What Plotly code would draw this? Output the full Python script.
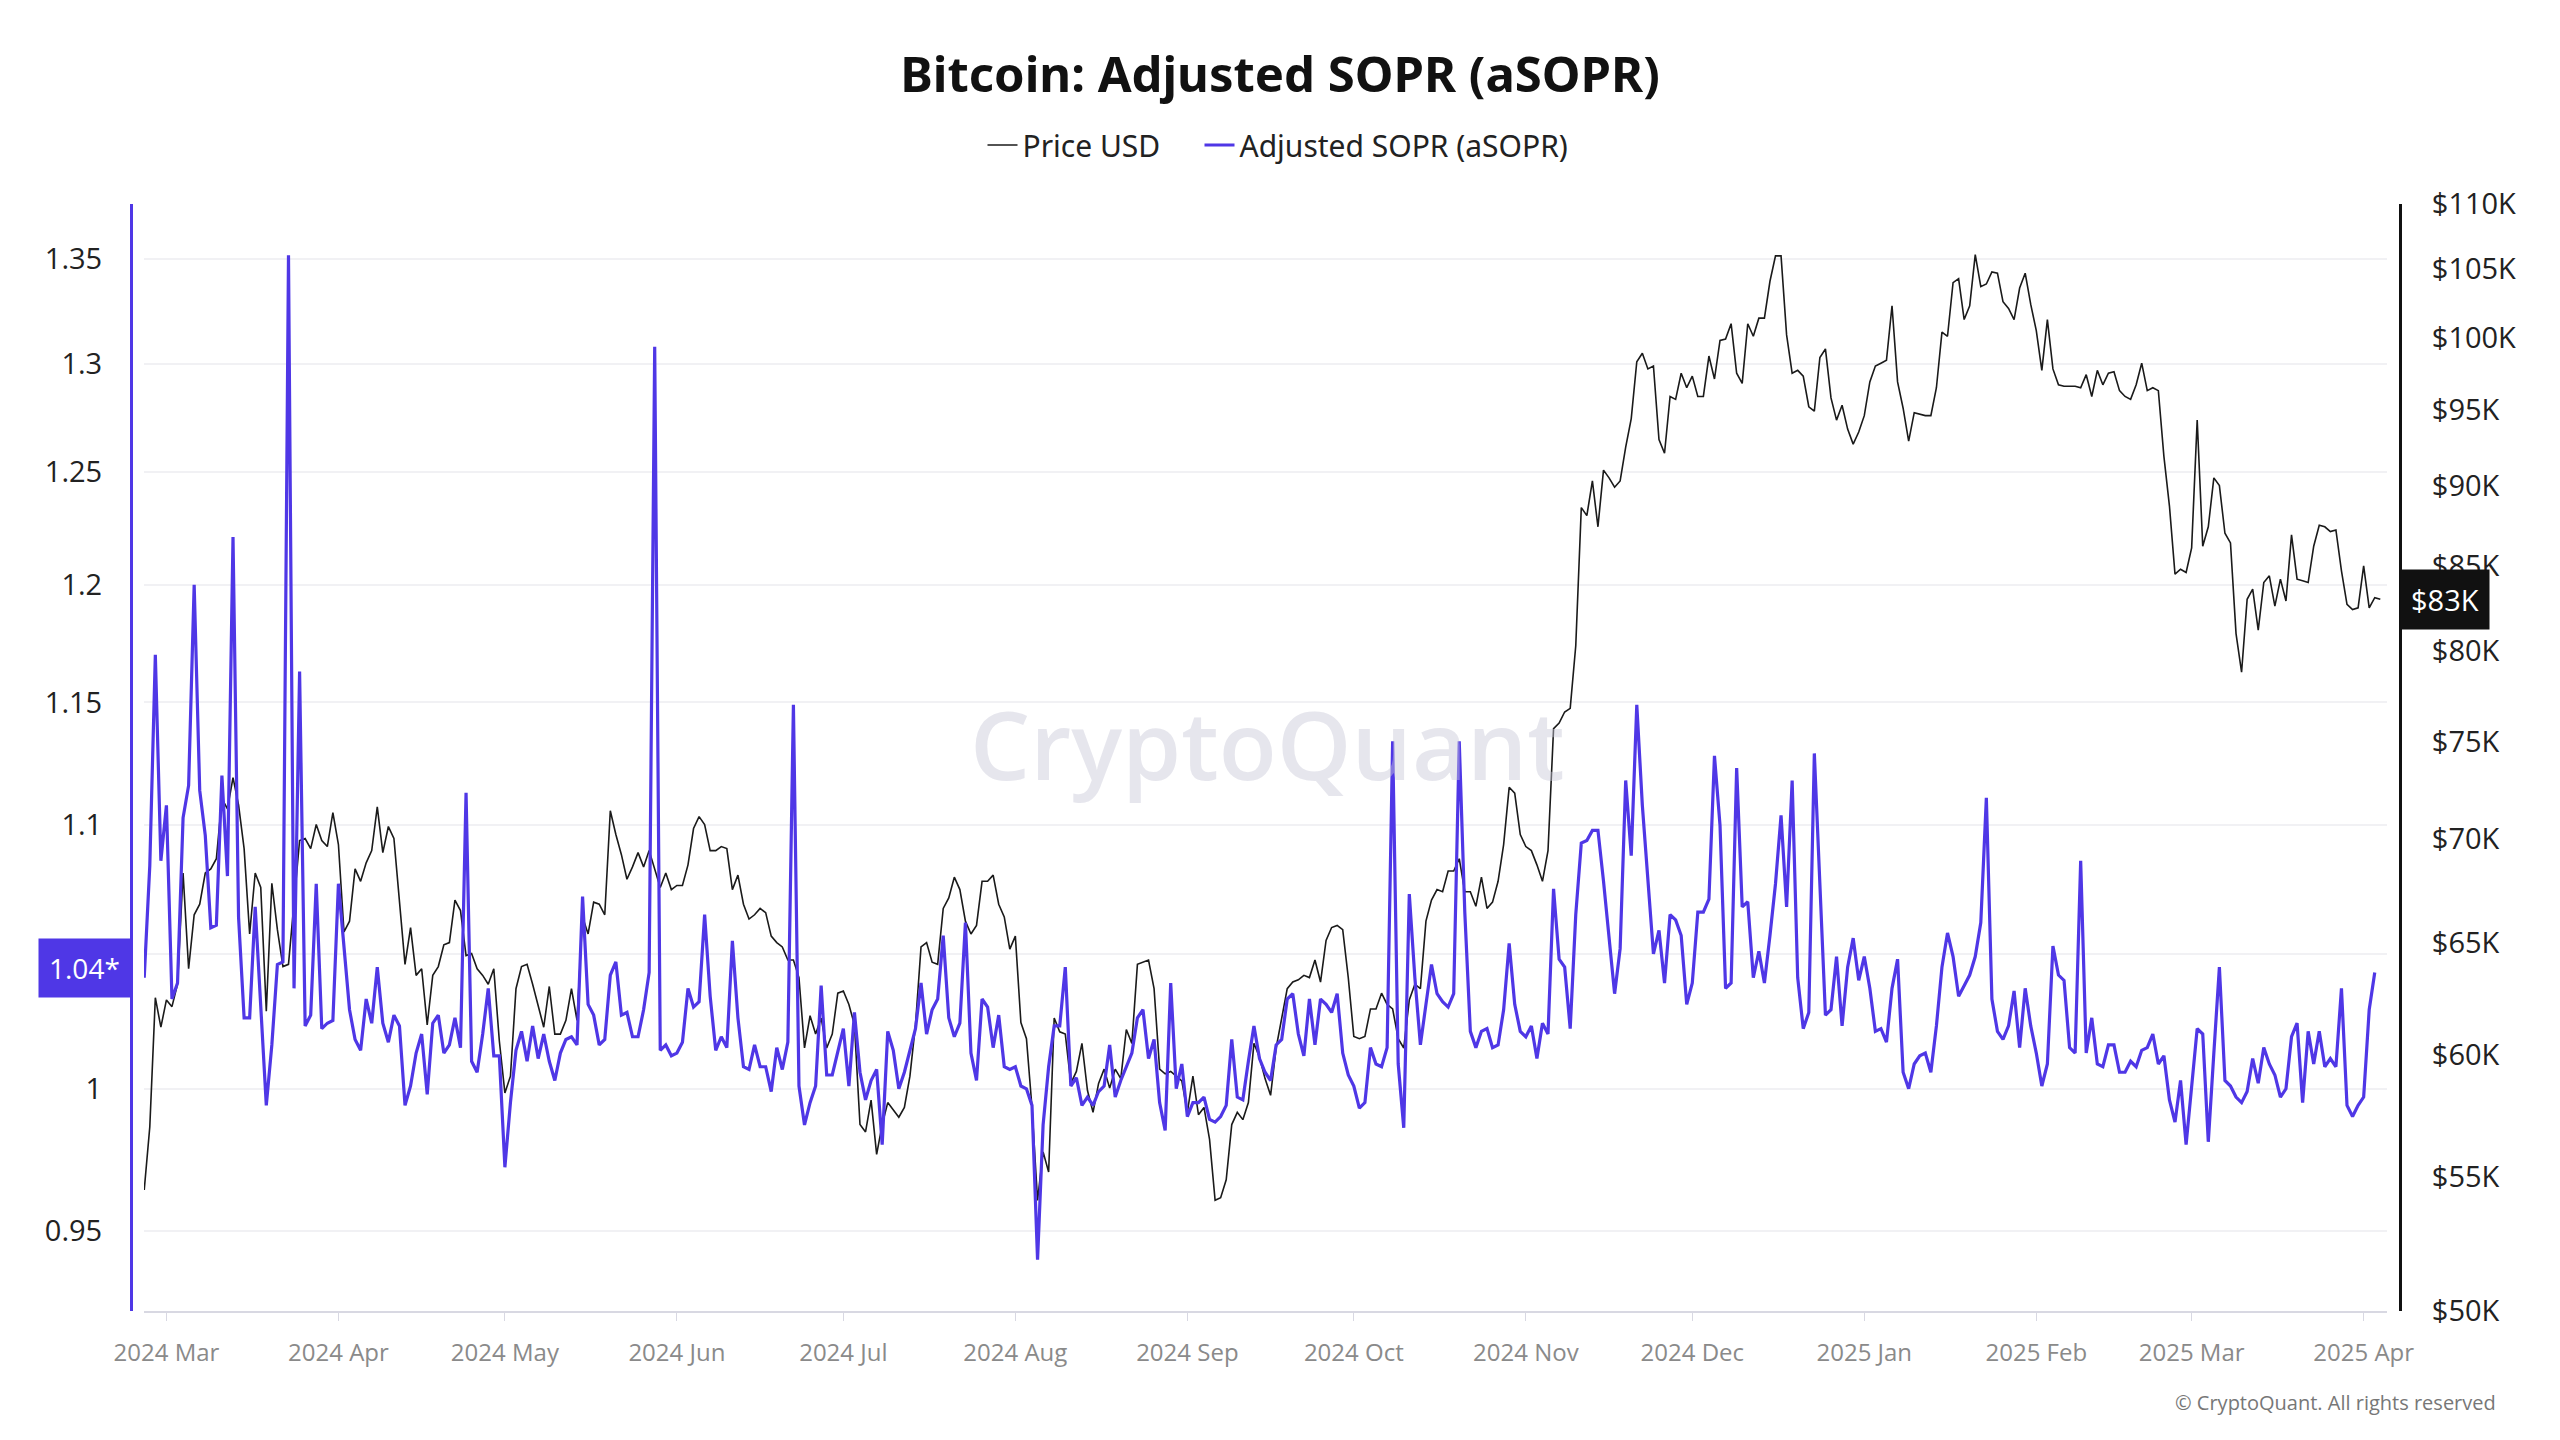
import math

import pandas as pd
import plotly.graph_objects as go

# 每日 aSOPR（按月分组，2024-02-26 起）
sopr_2024_02 = [1.041, 1.084, 1.170, 1.086]
sopr_2024_03 = [1.108, 1.033, 1.039, 1.103, 1.116, 1.200, 1.114, 1.096, 1.060, 1.061,
                1.120, 1.080, 1.221, 1.064, 1.026, 1.026, 1.068, 1.029, 0.994, 1.016,
                1.046, 1.047, 1.352, 1.037, 1.163, 1.023, 1.027, 1.077, 1.022, 1.024,
                1.025]
sopr_2024_04 = [1.077, 1.053, 1.029, 1.018, 1.014, 1.033, 1.024, 1.045, 1.024, 1.017,
                1.027, 1.023, 0.994, 1.001, 1.013, 1.020, 0.998, 1.024, 1.027, 1.013,
                1.016, 1.026, 1.015, 1.113, 1.010, 1.006, 1.020, 1.037, 1.012, 1.012]
sopr_2024_05 = [0.972, 0.995, 1.014, 1.021, 1.010, 1.023, 1.011, 1.020, 1.010, 1.003,
                1.013, 1.018, 1.019, 1.016, 1.072, 1.031, 1.027, 1.016, 1.018, 1.042,
                1.047, 1.027, 1.028, 1.019, 1.019, 1.029, 1.043, 1.308, 1.014, 1.016,
                1.012]
sopr_2024_06 = [1.013, 1.017, 1.037, 1.030, 1.032, 1.065, 1.034, 1.014, 1.019, 1.015,
                1.055, 1.026, 1.008, 1.007, 1.016, 1.008, 1.008, 0.999, 1.015, 1.007,
                1.017, 1.149, 1.001, 0.987, 0.995, 1.001, 1.038, 1.005, 1.005, 1.013]
sopr_2024_07 = [1.022, 1.001, 1.028, 1.006, 0.996, 1.003, 1.007, 0.980, 1.021, 1.014,
                1.000, 1.006, 1.014, 1.022, 1.039, 1.020, 1.029, 1.033, 1.057, 1.026,
                1.019, 1.024, 1.062, 1.013, 1.003, 1.033, 1.030, 1.015, 1.027, 1.008,
                1.007]
sopr_2024_08 = [1.008, 1.001, 1.000, 0.994, 0.940, 0.987, 1.008, 1.023, 1.023, 1.045,
                1.001, 1.004, 0.994, 0.997, 0.994, 0.999, 1.001, 1.016, 0.997, 1.003,
                1.008, 1.013, 1.026, 1.029, 1.011, 1.018, 0.995, 0.985, 1.039, 1.000,
                1.009]
sopr_2024_09 = [0.990, 0.995, 0.995, 0.997, 0.989, 0.988, 0.990, 0.994, 1.018, 0.997,
                0.996, 1.010, 1.023, 1.011, 1.006, 1.003, 1.016, 1.018, 1.033, 1.035,
                1.020, 1.012, 1.033, 1.016, 1.033, 1.031, 1.028, 1.035, 1.013, 1.005]
sopr_2024_10 = [1.001, 0.993, 0.995, 1.015, 1.009, 1.008, 1.015, 1.134, 1.009, 0.986,
                1.073, 1.041, 1.016, 1.031, 1.046, 1.035, 1.032, 1.030, 1.035, 1.134,
                1.066, 1.021, 1.015, 1.021, 1.022, 1.015, 1.016, 1.029, 1.054, 1.031,
                1.021]
sopr_2024_11 = [1.019, 1.023, 1.011, 1.024, 1.020, 1.075, 1.048, 1.045, 1.022, 1.065,
                1.093, 1.094, 1.098, 1.098, 1.078, 1.056, 1.035, 1.052, 1.118, 1.088,
                1.149, 1.108, 1.080, 1.050, 1.059, 1.039, 1.065, 1.063, 1.057, 1.031]
sopr_2024_12 = [1.039, 1.066, 1.066, 1.071, 1.128, 1.100, 1.037, 1.039, 1.123, 1.068,
                1.070, 1.041, 1.051, 1.039, 1.057, 1.077, 1.104, 1.068, 1.118, 1.041,
                1.022, 1.028, 1.129, 1.078, 1.027, 1.029, 1.049, 1.023, 1.045, 1.056,
                1.040]
sopr_2025_01 = [1.049, 1.037, 1.021, 1.022, 1.017, 1.037, 1.048, 1.006, 1.000, 1.009,
                1.012, 1.013, 1.006, 1.023, 1.045, 1.058, 1.049, 1.034, 1.038, 1.042,
                1.049, 1.062, 1.111, 1.033, 1.021, 1.018, 1.023, 1.036, 1.015, 1.037,
                1.023]
sopr_2025_02 = [1.013, 1.001, 1.009, 1.053, 1.042, 1.040, 1.015, 1.013, 1.086, 1.013,
                1.026, 1.009, 1.008, 1.016, 1.016, 1.006, 1.006, 1.010, 1.008, 1.014,
                1.015, 1.020, 1.009, 1.012, 0.996, 0.988, 1.003, 0.980]
sopr_2025_03 = [1.001, 1.022, 1.020, 0.981, 1.013, 1.045, 1.003, 1.001, 0.997, 0.995,
                0.999, 1.011, 1.002, 1.015, 1.009, 1.005, 0.997, 1.000, 1.019, 1.024,
                0.995, 1.021, 1.009, 1.021, 1.008, 1.011, 1.008, 1.037, 0.994, 0.990,
                0.994]
sopr_2025_04 = [0.997, 1.029, 1.043]

# 每日 BTC 价格（千美元）
price_2024_02 = [54.5, 57.0, 62.5, 61.2]
price_2024_03 = [62.4, 62.1, 63.1, 68.3, 63.8, 66.3, 66.8, 68.3, 68.5, 69.0,
                 72.0, 71.5, 73.1, 71.7, 69.5, 65.4, 68.3, 67.6, 61.9, 67.8,
                 65.6, 63.9, 64.0, 66.8, 69.9, 70.0, 69.5, 70.7, 69.9, 69.6,
                 71.3]
price_2024_04 = [69.7, 65.5, 66.0, 68.5, 67.9, 68.8, 69.4, 71.6, 69.3, 70.6,
                 70.0, 67.0, 64.0, 65.7, 63.5, 63.8, 61.3, 63.5, 63.9, 64.9,
                 65.0, 67.0, 66.5, 64.4, 64.5, 63.8, 63.5, 63.1, 63.8, 60.6]
price_2024_05 = [58.4, 59.1, 62.9, 63.9, 64.0, 63.1, 62.2, 61.2, 63.0, 60.9,
                 60.9, 61.5, 62.9, 61.5, 66.2, 65.4, 66.9, 66.8, 66.3, 71.4,
                 70.2, 69.2, 68.0, 68.6, 69.3, 68.6, 69.4, 68.5, 67.6, 68.3,
                 67.5]
price_2024_06 = [67.7, 67.7, 68.7, 70.5, 71.1, 70.7, 69.4, 69.4, 69.6, 69.5,
                 67.5, 68.2, 66.8, 66.1, 66.3, 66.6, 66.4, 65.3, 65.0, 64.8,
                 64.2, 64.2, 63.4, 60.3, 61.7, 60.9, 61.6, 60.3, 60.9, 62.7]
price_2024_07 = [62.8, 62.2, 61.3, 57.1, 56.8, 58.1, 55.9, 57.1, 58.0, 57.7,
                 57.4, 57.8, 59.1, 61.3, 64.8, 65.0, 64.1, 64.0, 66.6, 67.1,
                 68.1, 67.5, 66.0, 65.4, 65.8, 67.9, 67.9, 68.2, 66.8, 66.2,
                 64.7]
price_2024_08 = [65.3, 61.4, 60.7, 57.8, 54.1, 56.0, 55.2, 61.6, 61.0, 60.9,
                 58.8, 59.3, 60.5, 58.5, 57.6, 58.8, 59.4, 58.6, 59.4, 59.0,
                 61.1, 60.5, 64.0, 64.1, 64.2, 62.9, 59.4, 59.2, 59.3, 59.1,
                 58.9]
price_2024_09 = [57.6, 59.1, 57.5, 57.8, 56.5, 54.1, 54.2, 54.9, 57.1, 57.6,
                 57.3, 58.0, 60.5, 59.9, 59.0, 58.3, 60.3, 61.6, 62.9, 63.2,
                 63.3, 63.5, 63.4, 64.2, 63.2, 65.1, 65.7, 65.8, 65.6, 63.4]
price_2024_10 = [60.8, 60.7, 60.8, 62.0, 62.0, 62.7, 62.2, 62.0, 60.7, 60.3,
                 62.4, 63.1, 62.9, 66.0, 67.0, 67.5, 67.4, 68.4, 68.4, 69.0,
                 67.4, 67.4, 66.7, 68.1, 66.6, 66.9, 67.9, 69.7, 72.6, 72.3,
                 70.2]
price_2024_11 = [69.6, 69.4, 68.7, 67.9, 69.4, 75.7, 76.0, 76.6, 76.8, 80.3,
                 88.6, 88.1, 90.3, 87.4, 91.0, 90.5, 89.9, 90.3, 92.5, 94.4,
                 98.3, 98.9, 97.8, 98.0, 93.0, 92.1, 95.9, 95.7, 97.5, 96.5]
price_2024_12 = [97.3, 95.9, 95.9, 98.7, 97.1, 99.8, 99.9, 101.0, 97.5, 96.8,
                 101.0, 100.1, 101.4, 101.4, 104.1, 106.0, 106.0, 100.2, 97.5, 97.7,
                 97.3, 95.2, 94.9, 98.6, 99.2, 95.8, 94.3, 95.3, 93.7, 92.7,
                 93.5]
price_2025_01 = [94.6, 96.9, 98.0, 98.2, 98.4, 102.3, 96.9, 95.1, 92.9, 94.8,
                 94.7, 94.6, 94.6, 96.5, 100.4, 100.1, 104.0, 104.3, 101.3, 102.3,
                 106.1, 103.7, 103.9, 104.8, 104.7, 102.6, 102.1, 101.3, 103.6, 104.7,
                 102.4]
price_2025_02 = [100.5, 97.7, 101.3, 97.8, 96.7, 96.6, 96.6, 96.6, 96.5, 97.4,
                 95.9, 97.7, 96.7, 97.5, 97.6, 96.3, 95.9, 95.7, 96.7, 98.2,
                 96.3, 96.5, 96.3, 91.9, 88.7, 84.5, 84.8, 84.6]
price_2025_03 = [86.1, 94.3, 86.2, 87.4, 90.5, 90.0, 87.0, 86.4, 81.0, 78.8,
                 83.0, 83.6, 81.2, 84.0, 84.4, 82.6, 84.2, 82.9, 86.9, 84.2,
                 84.1, 84.0, 86.2, 87.5, 87.4, 87.1, 87.2, 84.7, 82.7, 82.4,
                 82.5]
price_2025_04 = [85.0, 82.5, 83.1, 83.0]

# 坐标轴刻度
SOPR_TICKS = [0.95, 1, 1.05, 1.1, 1.15, 1.2, 1.25, 1.3, 1.35]
SOPR_TICK_TEXT = ['0.95', '1', '1.05', '1.1', '1.15', '1.2', '1.25', '1.3', '1.35']
PRICE_TICKS_K = [50, 55, 60, 65, 70, 75, 80, 85, 90, 95, 100, 105, 110]

START_DATE = '2024-02-26'

sopr = (sopr_2024_02 + sopr_2024_03 + sopr_2024_04 + sopr_2024_05 + sopr_2024_06
        + sopr_2024_07 + sopr_2024_08 + sopr_2024_09 + sopr_2024_10 + sopr_2024_11
        + sopr_2024_12 + sopr_2025_01 + sopr_2025_02 + sopr_2025_03 + sopr_2025_04)
price_k = (price_2024_02 + price_2024_03 + price_2024_04 + price_2024_05 + price_2024_06
           + price_2024_07 + price_2024_08 + price_2024_09 + price_2024_10 + price_2024_11
           + price_2024_12 + price_2025_01 + price_2025_02 + price_2025_03 + price_2025_04)

sopr_dates = pd.date_range(START_DATE, periods=len(sopr), freq='D')
price_dates = pd.date_range(START_DATE, periods=len(price_k), freq='D')
price_usd = [p * 1000 for p in price_k]

PURPLE = '#4f37e6'
BLACK = '#1a1a1a'

# 页面自带 8px 边距，这里整体往左上挪
L, R, T, B = 123, 168, 192, 137
PAPER_W = 2560 - L - R
PAPER_H = 1440 - T - B

fig = go.Figure()

# 价格（主轴，右侧）
fig.add_trace(
    go.Scatter(
        x=price_dates,
        y=price_usd,
        name='Price USD',
        mode='lines',
        line={'color': BLACK, 'width': 1.6},
        yaxis='y',
        legendwidth=172,
    )
)

# aSOPR（覆盖轴，左侧）
fig.add_trace(
    go.Scatter(
        x=sopr_dates,
        y=sopr,
        name='Adjusted SOPR (aSOPR)',
        mode='lines',
        line={'color': PURPLE, 'width': 3.2},
        yaxis='y2',
    )
)

fig.update_layout(
    width=2560,
    height=1440,
    margin={'l': L, 'r': R, 't': T, 'b': B},
    paper_bgcolor='white',
    plot_bgcolor='white',
    font={'family': 'Noto Sans', 'color': '#222222'},
    title={
        'text': '<b>Bitcoin: Adjusted SOPR (aSOPR)</b>',
        'x': 1272 / 2560,
        'xanchor': 'center',
        'xref': 'container',
        'y': 1 - 67 / 1440,
        'yref': 'container',
        'yanchor': 'middle',
        'font': {'size': 49, 'color': '#111111'},
    },
    legend={
        'orientation': 'h',
        'x': 1270 / 2560,
        'xanchor': 'center',
        'xref': 'container',
        'y': 1 - 137 / 1440,
        'yref': 'container',
        'yanchor': 'middle',
        'font': {'size': 30, 'color': '#222222'},
        'itemwidth': 30,
    },
    showlegend=True,
    xaxis={
        'domain': [13 / PAPER_W, 2256 / PAPER_W],
        'type': 'date',
        'range': ['2024-02-25 23:00', '2025-04-05 05:00'],
        'tick0': '2024-03-01',
        'dtick': 'M1',
        'tickformat': '%Y %b',
        'showgrid': False,
        'zeroline': False,
        'showline': True,
        'linecolor': '#d8d8e2',
        'linewidth': 2,
        'ticks': 'outside',
        'ticklen': 8,
        'tickcolor': '#d8d8e2',
        'tickfont': {'size': 24, 'color': '#8a8a8a', 'family': 'Open Sans'},
        'ticklabelstandoff': 11,
    },
    yaxis={
        'type': 'log',
        'range': [math.log10(50000), math.log10(110000)],
        'side': 'right',
        'anchor': 'free',
        'position': 1,
        'tickvals': [v * 1000 for v in PRICE_TICKS_K],
        'ticktext': [f'${v}K' for v in PRICE_TICKS_K],
        'showgrid': False,
        'zeroline': False,
        'showline': True,
        'linecolor': '#111111',
        'linewidth': 3,
        'ticks': '',
        'tickfont': {'size': 29, 'color': '#222222', 'family': 'Open Sans'},
        'ticklabelstandoff': 24,
    },
    yaxis2={
        'type': 'log',
        'overlaying': 'y',
        'side': 'left',
        'anchor': 'free',
        'position': 0,
        'range': [-0.03492, 0.13905],
        'tickvals': SOPR_TICKS,
        'ticktext': SOPR_TICK_TEXT,
        'showgrid': True,
        'gridcolor': '#f1f1f4',
        'gridwidth': 1.5,
        'zeroline': False,
        'showline': True,
        'linecolor': PURPLE,
        'linewidth': 3,
        'ticks': '',
        'tickfont': {'size': 29, 'color': '#222222', 'family': 'Open Sans'},
        'ticklabelstandoff': 22,
    },
)

# aSOPR = 1 虚线
fig.add_shape(
    type='line',
    xref='x domain',
    x0=0,
    x1=1,
    yref='y2',
    y0=1,
    y1=1,
    line={'color': '#b9b9c8', 'width': 1.5, 'dash': 'dash'},
    layer='below',
)

# 水印
fig.add_annotation(
    text='CryptoQuant',
    xref='paper',
    x=0.501,
    yref='paper',
    y=0.513,
    showarrow=False,
    font={'size': 95, 'color': 'rgba(200, 200, 214, 0.45)', 'family': 'Open Sans', 'weight': 600},
)

# 最新值标签
fig.add_annotation(
    text=f'{sopr[-1]:.2f}*',
    xref='paper',
    x=0,
    xanchor='right',
    yref='y2',
    y=math.log10(sopr[-1]),
    yanchor='middle',
    yshift=4,
    showarrow=False,
    bgcolor=PURPLE,
    borderpad=10,
    font={'size': 28, 'color': 'white', 'family': 'Open Sans'},
)
fig.add_annotation(
    text=f'${price_k[-1]:.0f}K',
    xref='paper',
    x=1,
    xanchor='left',
    yref='y',
    y=math.log10(price_usd[-1]),
    yanchor='middle',
    showarrow=False,
    bgcolor='#111111',
    borderpad=10,
    font={'size': 29, 'color': 'white', 'family': 'Open Sans'},
)

# 版权
fig.add_annotation(
    text='© CryptoQuant. All rights reserved',
    xref='paper',
    x=(2490 - L) / PAPER_W,
    xanchor='right',
    yref='paper',
    y=-92 / PAPER_H,
    yanchor='middle',
    showarrow=False,
    font={'size': 20, 'color': '#777777', 'family': 'Open Sans'},
)

fig.write_html('out.html')
